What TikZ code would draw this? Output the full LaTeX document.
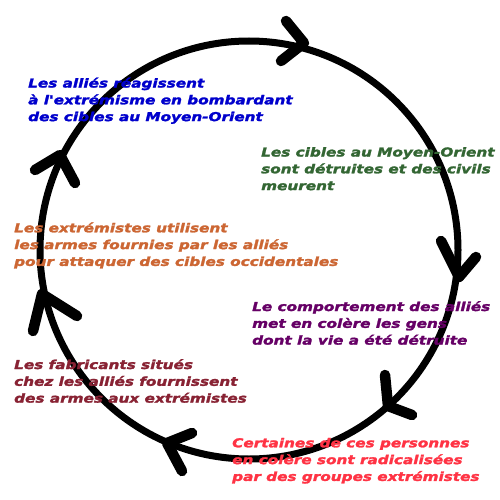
\documentclass[tikz,border=0pt]{standalone}
\usepackage{fontspec}
\setmainfont{DejaVu Sans}
\newfontfamily\labfont[FakeStretch=1.24,FakeBold=2]{DejaVu Sans Bold Oblique}
\definecolor{cblue}{HTML}{0000CC}
\definecolor{cgreen}{HTML}{336633}
\definecolor{corange}{HTML}{CC6633}
\definecolor{cpurple}{HTML}{660066}
\definecolor{cdred}{HTML}{882233}
\definecolor{cred}{HTML}{FF3344}
\tikzset{
  lab/.style={anchor=base west, align=left, inner sep=0pt, yshift=-33.6pt, font=\labfont\fontsize{12.3}{16.8}\selectfont},
  ring/.style={line width=7pt},
  chev/.style={line width=10.5pt, line cap=round, line join=round}
}
\begin{document}
\begin{tikzpicture}[x=1pt,y=-1pt]
\useasboundingbox (0,0) rectangle (500,500);
\fill[white] (0,0) rectangle (500,500);
\draw[ring] (249,250) circle[radius=209];
% chevrons
\draw[chev] (286,21) -- (304,43) -- (281,61);
\draw[chev] (441,241) -- (459,277) -- (476,257);
\draw[chev] (385,375) -- (388,406) -- (412,415);
\draw[chev] (192,433) -- (167,443) -- (182,471);
\draw[chev] (33,331) -- (42,294) -- (77,316);
\draw[chev] (35,170) -- (60,155) -- (75,183);
% labels
\node[lab, text=cblue] (n1) at (28,87.5) {Les alliés réagissent\\à l'extrémisme en bombardant\\des cibles au Moyen-Orient};
\node[lab, text=cgreen] (n2) at (261,156.5) {Les cibles au Moyen-Orient\\sont détruites et des civils\\meurent};
\node[lab, text=cpurple] (n3) at (252,311) {Le comportement des alliés\\met en colère les gens\\dont la vie a été détruite};
\node[lab, text=cred] (n4) at (232,447.3) {Certaines de ces personnes\\en colère sont radicalisées\\par des groupes extrémistes};
\node[lab, text=cdred] (n5) at (14,369) {Les fabricants situés\\chez les alliés fournissent\\des armes aux extrémistes};
\node[lab, text=corange] (n6) at (14,232.3) {Les extrémistes utilisent\\les armes fournies par les alliés\\pour attaquer des cibles occidentales};
\end{tikzpicture}
\end{document}
